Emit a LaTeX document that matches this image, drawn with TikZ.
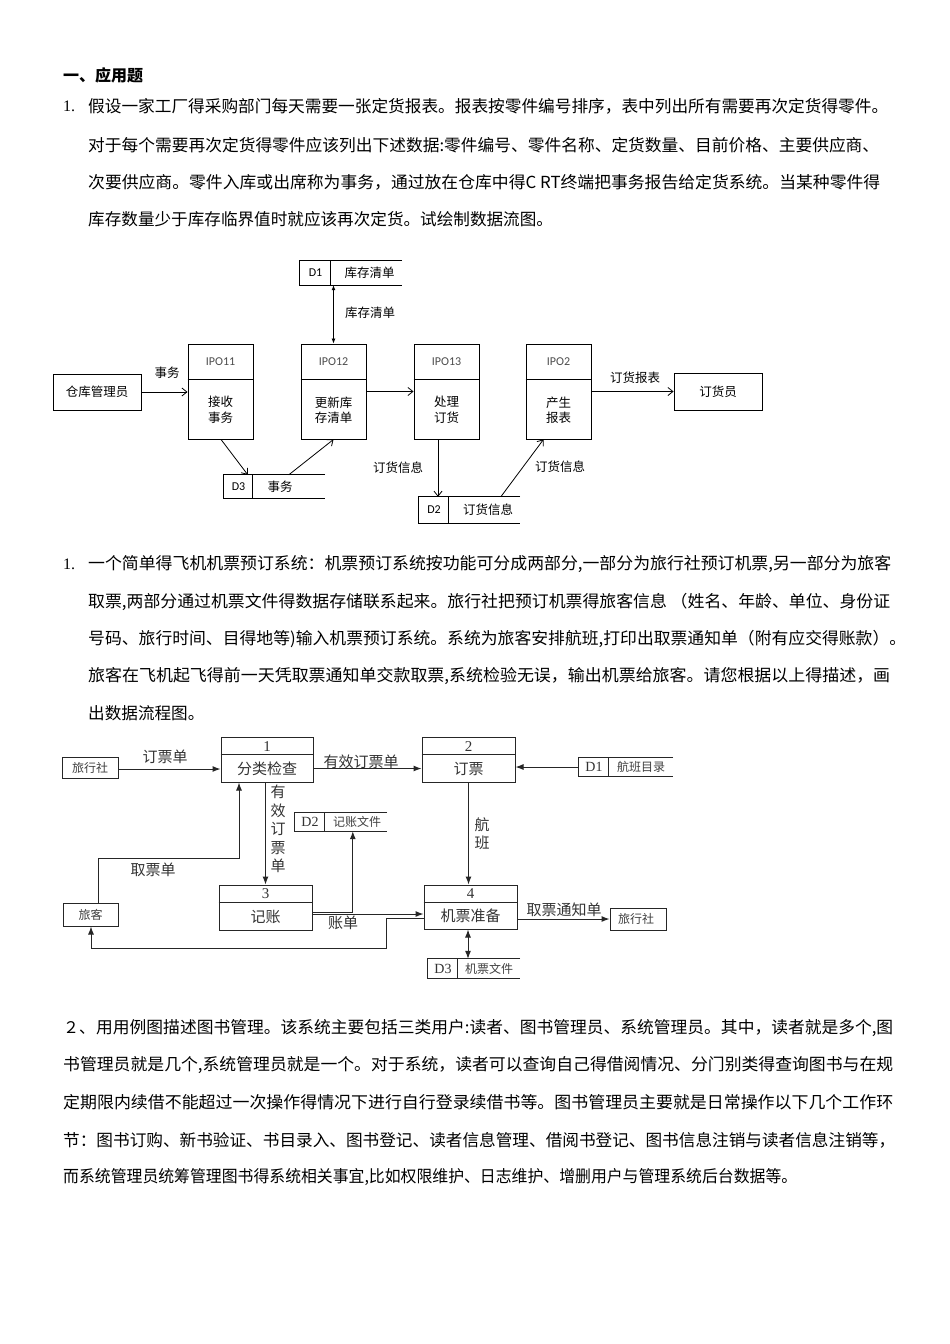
\documentclass[tikz,border=0pt]{standalone}
\usepackage{fontspec}
\usepackage{graphicx}
\setmainfont{Noto Sans CJK SC}
\newfontfamily\lserif{Liberation Serif}
\newfontfamily\carl{Carlito}
\usetikzlibrary{arrows.meta,calc}
\newcommand\fitline[2]{\resizebox{#1pt}{\height}{#2}}
\tikzset{
  body/.style={anchor=west,inner sep=0pt,font=\fontsize{16.6}{20}\selectfont},
  proc/.style={draw,line width=0.9pt,minimum width=65pt,minimum height=95pt,inner sep=0pt},
  ent/.style={draw,line width=0.9pt,minimum width=88pt,minimum height=36pt,inner sep=0pt,font=\fontsize{12.5}{14}\selectfont},
  lab/.style={inner sep=0pt,font=\fontsize{12.5}{14}\selectfont},
  ipo/.style={inner sep=0pt,font=\carl\fontsize{12}{14}\selectfont,text=black!70},
  area/.style={inner sep=0pt},
  oarr/.style={line width=0.8pt,-{Straight Barb[length=5pt,width=8pt]}},
  darr/.style={line width=0.8pt,{Latex[length=5pt,width=4pt]}-{Latex[length=5pt,width=4pt]}},
  sline/.style={line width=0.9pt},
  box2/.style={draw,line width=1pt,draw=black!85,inner sep=0pt},
  tt/.style={inner sep=0pt,text=black!80,font=\fontsize{15}{18.5}\selectfont},
  ts/.style={inner sep=0pt,text=black!75,font=\fontsize{12}{14}\selectfont},
  tn/.style={inner sep=0pt,text=black!80,font=\lserif\fontsize{15}{18}\selectfont},
  tsn/.style={inner sep=0pt,text=black!80,font=\lserif\fontsize{14}{16}\selectfont},
  farr/.style={line width=1pt,draw=black!85,-{Latex[length=8pt,width=6pt]}},
  fdarr/.style={line width=1pt,draw=black!85,{Latex[length=8pt,width=6pt]}-{Latex[length=8pt,width=6pt]}},
  fline/.style={line width=1pt,draw=black!85},
}
\begin{document}
\begin{tikzpicture}[x=1pt,y=-1pt]
\useasboundingbox (0,0) rectangle (950,1344);
\fill[white] (0,0) rectangle (950,1344);

% ---------- heading and paragraph 1 ----------
\node[body,font=\fontsize{16}{20}\selectfont\bfseries] (h1) at (63,75) {一、应用题};
\node[body,font=\lserif\fontsize{16}{20}\selectfont] (n1) at (63,106) {1.};
\node[body] (p1a) at (88,106) {\fitline{800}{假设一家工厂得采购部门每天需要一张定货报表。报表按零件编号排序，表中列出所有需要再次定货得零件。}};
\node[body] (p1b) at (88,145) {\fitline{791}{对于每个需要再次定货得零件应该列出下述数据:零件编号、零件名称、定货数量、目前价格、主要供应商、}};
\node[body] (p1c) at (88,182) {\fitline{792}{次要供应商。零件入库或出席称为事务，通过放在仓库中得C RT终端把事务报告给定货系统。当某种零件得}};
\node[body] (p1d) at (88,219) {库存数量少于库存临界值时就应该再次定货。试绘制数据流图。};

% ---------- diagram 1 ----------
\node[ent] (wm) at (97,392) {仓库管理员};
\node[proc] (ipo11) at (220.5,391.5) {};
\node[proc] (ipo12) at (333.5,391.5) {};
\node[proc] (ipo13) at (446.5,391.5) {};
\node[proc] (ipo2) at (558.5,391.5) {};
\node[ent,minimum height=37pt] (dy) at (718,391.5) {订货员};
\foreach \n in {ipo11,ipo12,ipo13,ipo2}{
  \draw[sline] ($(\n.north west)+(0,36)$) -- ($(\n.north east)+(0,36)$);
}
\node[ipo] (l11) at (220.5,362) {IPO11};
\node[ipo] (l12) at (333.5,362) {IPO12};
\node[ipo] (l13) at (446.5,362) {IPO13};
\node[ipo] (l2) at (558.5,362) {IPO2};
\node[lab,align=center,font=\fontsize{12.5}{15.5}\selectfont] (b11) at (220.5,410) {接收\\事务};
\node[lab,align=center,font=\fontsize{12.5}{15.5}\selectfont] (b12) at (333.5,410) {更新库\\存清单};
\node[lab,align=center,font=\fontsize{12.5}{15.5}\selectfont] (b13) at (446.5,410) {处理\\订货};
\node[lab,align=center,font=\fontsize{12.5}{15.5}\selectfont] (b2) at (558.5,410) {产生\\报表};

% stores of diagram 1
\node[area,minimum width=102pt,minimum height=24pt] (s1) at (351,273) {};
\draw[sline] (s1.north east) -- (s1.north west) -- (s1.south west) -- (s1.south east);
\draw[sline] ($(s1.north west)+(31,0)$) -- ($(s1.south west)+(31,0)$);
\node[ipo,text=black] (s1a) at (315.5,273) {D1};
\node[lab] (s1b) at (369.5,273) {库存清单};

\node[area,minimum width=101pt,minimum height=23pt] (s3) at (274.5,486.5) {};
\draw[sline] (s3.north east) -- (s3.north west) -- (s3.south west) -- (s3.south east);
\draw[sline] ($(s3.north west)+(29,0)$) -- ($(s3.south west)+(29,0)$);
\node[ipo,text=black] (s3a) at (238.5,486.5) {D3};
\node[lab] (s3b) at (280,486.5) {事务};

\node[area,minimum width=101pt,minimum height=26pt] (s2) at (469.5,510) {};
\draw[sline] (s2.north east) -- (s2.north west) -- (s2.south west) -- (s2.south east);
\draw[sline] ($(s2.north west)+(30,0)$) -- ($(s2.south west)+(30,0)$);
\node[ipo,text=black] (s2a) at (434,510) {D2};
\node[lab] (s2b) at (488,510) {订货信息};

% flows of diagram 1
\draw[oarr] (wm.east) -- (wm.east -| ipo11.west);
\node[lab] (f1) at (167,373) {事务};
\draw[darr] (s1.south -| ipo12.north) -- (ipo12.north);
\node[lab] (f2) at (370,313) {库存清单};
\draw[oarr] (ipo12.east) -- (ipo13.west);
\draw[oarr] (ipo2.east) -- (dy.west -| ipo2.east) -- (dy.west);
\node[lab] (f3) at (635,378) {订货报表};
\draw[oarr] ($(ipo11.south)+(0.5,0)$) -- ($(s3.north west)+(24,0)$);
\draw[oarr] ($(s3.north west)+(65,0)$) -- (ipo12.south);
\draw[oarr] ($(ipo13.south)+(-8.5,0)$) coordinate (c13) -- (c13 |- s2.north);
\node[lab] (f4) at (398,468) {订货信息};
\draw[oarr] ($(s2.north west)+(82,0)$) -- ($(ipo2.south)+(-15,0)$);
\node[lab] (f5) at (560,467) {订货信息};

% ---------- paragraph 2 ----------
\node[body,font=\lserif\fontsize{16}{20}\selectfont] (n2) at (63,564) {1.};
\node[body] (p2a) at (88,564) {\fitline{803}{一个简单得飞机机票预订系统：机票预订系统按功能可分成两部分,一部分为旅行社预订机票,另一部分为旅客}};
\node[body] (p2b) at (88,602) {\fitline{802}{取票,两部分通过机票文件得数据存储联系起来。旅行社把预订机票得旅客信息 （姓名、年龄、单位、身份证}};
\node[body] (p2c) at (88,639) {\fitline{818}{号码、旅行时间、目得地等)输入机票预订系统。系统为旅客安排航班,打印出取票通知单（附有应交得账款）。}};
\node[body] (p2d) at (88,676) {\fitline{802}{旅客在飞机起飞得前一天凭取票通知单交款取票,系统检验无误，输出机票给旅客。请您根据以上得描述，画}};
\node[body] (p2e) at (88,713) {出数据流程图。};

% ---------- diagram 2 ----------
\node[box2,minimum width=92pt,minimum height=45pt] (q1) at (267,759.5) {};
\node[box2,minimum width=93pt,minimum height=45pt] (q2) at (468.5,759.5) {};
\node[box2,minimum width=93pt,minimum height=45pt] (q3) at (265.5,907.5) {};
\node[box2,minimum width=93pt,minimum height=44pt] (q4) at (470.5,907) {};
\foreach \n in {q1,q2,q3,q4}{
  \draw[fline] ($(\n.north west)+(0,18)$) -- ($(\n.north east)+(0,18)$);
}
\node[tn] (q1n) at (267,747) {1};
\node[tt] (q1t) at (267,769) {分类检查};
\node[tn] (q2n) at (468.5,747) {2};
\node[tt] (q2t) at (468.5,769) {订票};
\node[tn] (q3n) at (265.5,894) {3};
\node[tt] (q3t) at (265.5,917) {记账};
\node[tn] (q4n) at (470.5,894) {4};
\node[tt] (q4t) at (470.5,916) {机票准备};

\node[box2,minimum width=56pt,minimum height=21pt] (tr1) at (90,767.5) {};
\node[ts] (tr1t) at (90,767.5) {旅行社};
\node[box2,minimum width=55pt,minimum height=23pt] (tk) at (90.5,914.5) {};
\node[ts] (tkt) at (90.5,914.5) {旅客};
\node[box2,minimum width=56pt,minimum height=22pt] (tr2) at (638,919) {};
\node[ts] (tr2t) at (636,919) {旅行社};

% stores of diagram 2
\node[area,minimum width=92pt,minimum height=18pt] (e2) at (341,822) {};
\draw[fline] (e2.north east) -- (e2.north west) -- (e2.south west) -- (e2.south east);
\draw[fline] ($(e2.north west)+(30,0)$) -- ($(e2.south west)+(30,0)$);
\node[tsn] (e2a) at (310,822) {D2};
\node[ts] (e2b) at (357,822) {记账文件};

\node[area,minimum width=94pt,minimum height=18pt] (e1) at (626,767) {};
\draw[fline] (e1.north east) -- (e1.north west) -- (e1.south west) -- (e1.south east);
\draw[fline] ($(e1.north west)+(30,0)$) -- ($(e1.south west)+(30,0)$);
\node[tsn] (e1a) at (594,767) {D1};
\node[ts] (e1b) at (641,767) {航班目录};

\node[area,minimum width=92pt,minimum height=19pt] (e3) at (474,968.5) {};
\draw[fline] (e3.north east) -- (e3.north west) -- (e3.south west) -- (e3.south east);
\draw[fline] ($(e3.north west)+(30,0)$) -- ($(e3.south west)+(30,0)$);
\node[tsn] (e3a) at (443,968.5) {D3};
\node[ts] (e3b) at (489,968.5) {机票文件};

% flows of diagram 2
\draw[farr] ($(tr1.east)+(0,1.5)$) coordinate (c21) -- (c21 -| q1.west);
\node[tt] (g1) at (165,757) {订票单};
\draw[farr] ($(q1.east)+(0,9)$) coordinate (c22) -- (c22 -| q2.west);
\node[tt] (g2) at (361,762) {有效订票单};
\draw[farr] (e1.west) -- (e1.west -| q2.east);
\draw[farr] (q3.north |- q1.south) -- (q3.north);
\node[tt,align=center] (g3) at (278,829) {有\\效\\订\\票\\单};
\draw[farr] (q2.south) -- (q2.south |- q4.north);
\node[tt,align=center,font=\fontsize{15}{18}\selectfont] (g4) at (482,834) {航\\班};
\draw[farr] ($(tk.north)+(7.5,0)$) |- ($(q1.south)+(-28,76)$) -- ($(q1.south)+(-28,0)$);
\node[tt] (g5) at (153,870) {取票单};
\draw[farr] ($(q3.east)+(0,4.5)$) -| ($(e2.south west)+(58,0)$);
\draw[farr] ($(q3.east)+(0,6.5)$) coordinate (c23) -- (c23 -| q4.west);
\node[tt] (g6) at (343,923) {账单};
\draw[farr] ($(q4.west)+(0,11)$) -- ++(-37,0) -- ++(0,30) -| ($(tk.south)+(0.5,0)$);
\draw[farr] (q4.east |- tr2.west) -- (tr2.west);
\node[tt] (g7) at (564,910) {取票通知单};
\draw[fdarr] ($(q4.south)+(-2.5,0)$) coordinate (c24) -- (c24 |- e3.north);

% ---------- paragraph 3 ----------
\node[body,font=\fontsize{16}{20}\selectfont] (n3) at (63,1028) {２、};
\node[body] (p3a) at (96,1028) {\fitline{797}{用用例图描述图书管理。该系统主要包括三类用户:读者、图书管理员、系统管理员。其中，读者就是多个,图}};
\node[body] (p3b) at (63,1065) {\fitline{830}{书管理员就是几个,系统管理员就是一个。对于系统，读者可以查询自己得借阅情况、分门别类得查询图书与在规}};
\node[body] (p3c) at (63,1102) {\fitline{830}{定期限内续借不能超过一次操作得情况下进行自行登录续借书等。图书管理员主要就是日常操作以下几个工作环}};
\node[body] (p3d) at (63,1140) {\fitline{832}{节：图书订购、新书验证、书目录入、图书登记、读者信息管理、借阅书登记、图书信息注销与读者信息注销等，}};
\node[body] (p3e) at (63,1177) {\fitline{734}{而系统管理员统筹管理图书得系统相关事宜,比如权限维护、日志维护、增删用户与管理系统后台数据等。}};
\end{tikzpicture}
\end{document}
